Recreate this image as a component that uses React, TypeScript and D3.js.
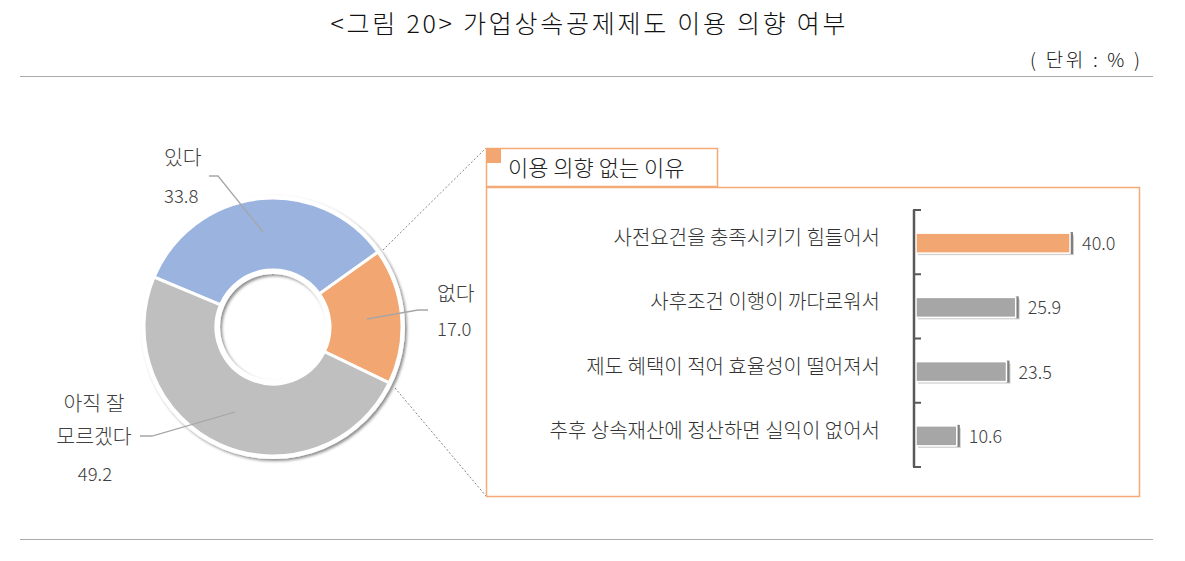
import * as d3 from 'd3';

const pieLabels = ['있다', '없다', '아직 잘 모르겠다'];
const pieValues = [33.8, 17.0, 49.2];
const pieColors = ['#9BB3DF', '#F2A773', '#BFBFBF'];

const reasons = [
  '사전요건을 충족시키기 힘들어서',
  '사후조건 이행이 까다로워서',
  '제도 혜택이 적어 효율성이 떨어져서',
  '추후 상속재산에 정산하면 실익이 없어서',
];
const reasonValues = [40.0, 25.9, 23.5, 10.6];
const barColors = ['#F2A773', '#A6A6A6', '#A6A6A6', '#A6A6A6'];

const FONT = "'Noto Sans CJK KR', 'Noto Sans', sans-serif";
const ORANGE = '#F5AB78';

export default function App() {
  const cx = 273, cy = 327, rOuter = 129, rInner = 57;
  const start = (-67.2 * Math.PI) / 180;
  const pie = d3.pie<number>().sort(null).startAngle(start).endAngle(start + Math.PI * 2);
  const arcs = pie(pieValues);
  const arc = d3.arc<d3.PieArcDatum<number>>().innerRadius(rInner).outerRadius(rOuter);
  // white backing ring that casts the shadow (outside and into the hole)
  const backing = d3.arc()({ innerRadius: rInner - 4, outerRadius: rOuter + 3, startAngle: 0, endAngle: Math.PI * 2 }) ?? '';

  // bar chart
  const x = d3.scaleLinear().domain([0, 40]).range([916, 1070]);
  const y = d3.scaleBand<string>().domain(reasons).range([210, 467]);
  const barH = 20;

  return (
    <div style={{ position: 'fixed', left: 0, top: 0 }}>
      <svg width={1185} height={561} style={{ fontFamily: FONT, display: 'block', background: '#fff' }}>
        <defs>
          <filter id="sh" x="-20%" y="-20%" width="140%" height="140%">
            <feDropShadow dx="2" dy="2" stdDeviation="1.5" floodColor="#000" floodOpacity="0.45" />
          </filter>
        </defs>

        {/* title */}
        <text x={588} y={33} textAnchor="middle" fontSize={25} fill="#111" fontWeight={300}
          textLength={515} lengthAdjust="spacing">
          {'<그림 20> 가업상속공제제도 이용 의향 여부'}
        </text>
        <text x={1140} y={67} textAnchor="end" fontSize={19} fill="#111" fontWeight={300}
          textLength={110} lengthAdjust="spacing">( 단위 : % )</text>
        <line x1={20} x2={1153} y1={76.5} y2={76.5} stroke="#AAAAAA" />
        <line x1={20} x2={1153} y1={539.5} y2={539.5} stroke="#AAAAAA" />

        {/* connector lines */}
        <line x1={383} y1={250} x2={486} y2={148} stroke="#666" strokeDasharray="2,2" strokeWidth={0.8} />
        <line x1={395} y1={388} x2={486} y2={496} stroke="#666" strokeDasharray="2,2" strokeWidth={0.8} />

        {/* donut */}
        <g transform={`translate(${cx},${cy})`}>
          <path d={backing} fill="#fff" filter="url(#sh)" />
          {arcs.map((a, i) => (
            <path key={pieLabels[i]} d={arc(a) ?? ''} fill={pieColors[i]} stroke="#fff" strokeWidth={3} />
          ))}
        </g>

        {/* leader lines */}
        <polyline points="209,176 218,176 263,232" fill="none" stroke="#A6A6A6" strokeWidth={1.3} />
        <polyline points="367,319 418,310 428,310" fill="none" stroke="#A6A6A6" strokeWidth={1.3} />
        <polyline points="140,436 152,436 235,412" fill="none" stroke="#A6A6A6" strokeWidth={1.3} />

        {/* donut labels */}
        <g fill="#404040" fontWeight={300}>
          <text x={164} y={165} fontSize={20.5}>{pieLabels[0]}</text>
          <text x={164} y={203} fontSize={18.5}>{pieValues[0].toFixed(1)}</text>
          <text x={437} y={301} fontSize={20.5}>{pieLabels[1]}</text>
          <text x={437} y={336} fontSize={18.5}>{pieValues[1].toFixed(1)}</text>
          <text x={94} y={411} textAnchor="middle" fontSize={20.5}>아직 잘</text>
          <text x={94} y={444} textAnchor="middle" fontSize={20.5}>모르겠다</text>
          <text x={95} y={481} textAnchor="middle" fontSize={18.5}>{pieValues[2].toFixed(1)}</text>
        </g>

        {/* panel */}
        <rect x={486.5} y={148.5} width={231} height={38} fill="#fff" stroke={ORANGE} strokeWidth={1.5} />
        <rect x={486} y={148} width={15} height={15} fill="#F2A773" />
        <text x={508} y={176} fontSize={22} fill="#222" fontWeight={300}>이용 의향 없는 이유</text>
        <rect x={486.5} y={187.5} width={653} height={309} fill="none" stroke={ORANGE} strokeWidth={1.5} />

        {/* bars */}
        {reasons.map((r, i) => {
          const by = (y(r) ?? 0) + y.bandwidth() / 2 - barH / 2 + 1;
          const w = x(reasonValues[i]) - x(0);
          return (
            <g key={r}>
              <rect x={x(0) + 2} y={by + 2} width={w + 2} height={barH} fill="#D0D0D0" />
              <rect x={x(0) + w} y={by - 1} width={3} height={barH + 2} fill="#7F7F7F" />
              <rect x={x(0)} y={by} width={w} height={barH} fill={barColors[i]} stroke="#fff" strokeWidth={1.5} />
              <text x={x(reasonValues[i]) + 12} y={by + barH / 2 + 7} fontSize={18} fill="#404040" fontWeight={300}>
                {reasonValues[i].toFixed(1)}
              </text>
              <text x={880} y={(y(r) ?? 0) + y.bandwidth() / 2 + 3} fontSize={20} fill="#333" textAnchor="end" fontWeight={300}>
                {r}
              </text>
            </g>
          );
        })}

        {/* axis */}
        <line x1={x(0) - 2} x2={x(0) - 2} y1={210} y2={467} stroke="#595959" strokeWidth={2.5} />
        {[...reasons.map(r => y(r) ?? 0), 467].map((t, i) => (
          <line key={i} x1={x(0) - 3} x2={x(0) + 5} y1={t} y2={t} stroke="#595959" strokeWidth={2} />
        ))}
      </svg>
    </div>
  );
}
